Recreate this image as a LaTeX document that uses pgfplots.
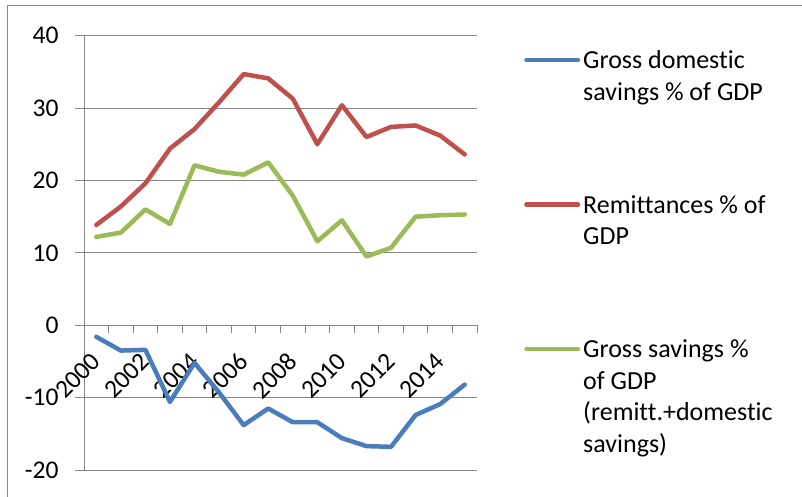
\documentclass[border=0pt]{standalone}
\usepackage{pgfplots}
\pgfplotsset{compat=1.18}
\usepackage{fontspec}
\setmainfont[Ligatures=NoCommon]{Carlito}
\definecolor{cblue}{RGB}{74,126,187}
\definecolor{cred}{RGB}{192,80,77}
\definecolor{cgreen}{RGB}{155,187,89}
\definecolor{cgrid}{RGB}{134,134,134}
\begin{document}
\begin{tikzpicture}
\begin{axis}[
  at={(84pt,26pt)}, anchor=south west,
  scale only axis, width=393pt, height=434.3pt,
  xmin=1999.5, xmax=2015.5, ymin=-20, ymax=40,
  axis x line=middle, axis y line=left,
  axis line style={-, draw=cgrid, line width=1pt},
  every inner x axis line/.append style={-},
  every outer y axis line/.append style={-},
  ytick={-20,-10,0,10,20,30,40},
  yticklabels={-20,-10,0,10,20,30,40},
  ymajorgrids, grid style={cgrid, line width=1pt},
  xtick={2000,2002,2004,2006,2008,2010,2012,2014},
  xticklabels={2000,2002,2004,2006,2008,2010,2012,2014},
  minor xtick={1999.5,2000.5,2001.5,2002.5,2003.5,2004.5,2005.5,2006.5,2007.5,2008.5,2009.5,2010.5,2011.5,2012.5,2013.5,2014.5,2015.5},
  major x tick style={draw=none},
  minor x tick style={draw=cgrid, line width=1pt},
  tick align=outside, major tick length=9pt, minor tick length=8pt,
  tick style={cgrid, line width=1pt},
  ticklabel style={font=\fontsize{25.5}{30}\selectfont},
  yticklabel style={xshift=-13pt},
  xticklabel style={yshift=-23pt, rotate=45, anchor=east, inner sep=0pt},
  clip=false,
  legend cell align=left,
  legend style={draw=none, fill=none, at={(1.1196,0.971)}, anchor=north west,
    font=\fontsize{26}{31.7}\selectfont, column sep=3pt, row sep=14.5pt, inner sep=0pt,
    nodes={inner sep=0pt, text height=20pt, text depth=110pt, anchor=base west}},
  legend image code/.code={\draw[#1, line cap=round] (2.25pt,8.4pt) -- (53.75pt,8.4pt);},
  every axis plot/.append style={line width=4.5pt, line join=round, line cap=round},
]
\addplot[cblue] coordinates {
(2000,-1.6) (2001,-3.5) (2002,-3.4) (2003,-10.6) (2004,-5.2) (2005,-9.3)
(2006,-13.8) (2007,-11.5) (2008,-13.4) (2009,-13.4) (2010,-15.6) (2011,-16.7)
(2012,-16.8) (2013,-12.4) (2014,-10.9) (2015,-8.2)};
\addlegendentry{\parbox[t]{215pt}{\raggedright Gross domestic\\savings \% of GDP}}
\addplot[cred] coordinates {
(2000,13.85) (2001,16.4) (2002,19.6) (2003,24.4) (2004,27.1) (2005,30.8)
(2006,34.7) (2007,34.1) (2008,31.3) (2009,25.0) (2010,30.4) (2011,26.0)
(2012,27.4) (2013,27.6) (2014,26.2) (2015,23.6)};
\addlegendentry{\parbox[t]{215pt}{\raggedright Remittances \% of\\GDP}}
\addplot[cgreen] coordinates {
(2000,12.2) (2001,12.8) (2002,16.0) (2003,14.0) (2004,22.1) (2005,21.2)
(2006,20.8) (2007,22.5) (2008,17.9) (2009,11.6) (2010,14.5) (2011,9.5)
(2012,10.7) (2013,15.0) (2014,15.2) (2015,15.3)};
\addlegendentry{\parbox[t]{215pt}{\raggedright Gross savings \%\\of GDP\\(remitt.+domestic\\savings)}}
\end{axis}
\draw[cgrid, line width=1pt] (7pt,-10pt) -- (7pt,490pt) -- (820pt,490pt);
\pgfresetboundingbox
\path[use as bounding box] (0pt,0pt) rectangle (802pt,496pt);
\end{tikzpicture}
\end{document}
